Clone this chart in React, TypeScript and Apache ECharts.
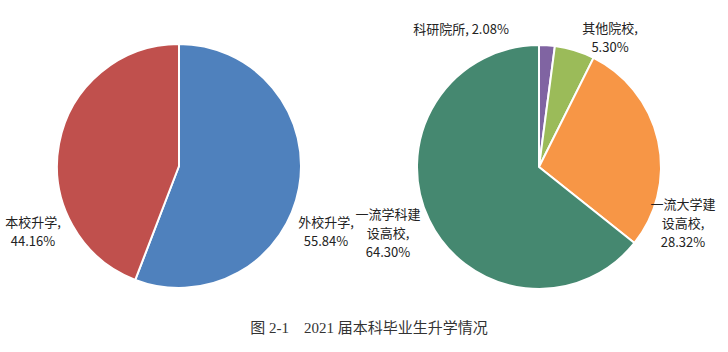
import React, { useEffect, useRef } from "react";
import * as echarts from "echarts";

const leftNames = ["外校升学", "本校升学"];
const leftValues = [55.84, 44.16];
const leftLabels = ["外校升学,", "本校升学,"];
const leftColors = ["#4F81BD", "#C0504D"];

const rightNames = ["科研院所", "其他院校", "一流大学建设高校", "一流学科建设高校"];
const rightValues = [2.08, 5.3, 28.32, 64.3];
const rightLabels = ["科研院所, ", "其他院校,\n", "一流大学建\n设高校,\n", "一流学科建\n设高校,\n"];
const rightColors = ["#8064A2", "#9BBB59", "#F79646", "#458870"];

const caption = "图 2-1    2021 届本科毕业生升学情况";

const leftLabelPos = [
  [326, 231],
  [33, 231],
];
const rightLabelPos = [
  [461, 28],
  [610, 37],
  [683, 222],
  [388, 232],
];

export default function App() {
  const ref = useRef<HTMLDivElement>(null);
  useEffect(() => {
    if (!ref.current) return;
    const chart = echarts.init(ref.current, null, { renderer: "svg" });
    const labelStyle = {
      show: true,
      position: "outside" as const,
      overflow: "none" as const,
      fontSize: 13,
      lineHeight: 19,
      color: "#222",
      fontFamily: "'Noto Sans CJK SC', 'Noto Sans', sans-serif",
      align: "center" as const,
    };
    const common = {
      type: "pie" as const,
      radius: 122,
      startAngle: 90,
      clockwise: true,
      silent: true,
      avoidLabelOverlap: false,
      itemStyle: { borderColor: "#fff", borderWidth: 2 },
      labelLine: { show: false },
    };
    chart.setOption({
      animation: false,
      backgroundColor: "#ffffff",
      series: [
        {
          ...common,
          center: [179, 166],
          label: {
            ...labelStyle,
            formatter: (p: any) => `${leftLabels[p.dataIndex]}\n${leftValues[p.dataIndex].toFixed(2)}%`,
          },
          labelLayout: (p: any) => ({
            x: leftLabelPos[p.dataIndex][0],
            y: leftLabelPos[p.dataIndex][1],
            align: "center",
            verticalAlign: "middle",
            hideOverlap: false,
          }),
          data: leftNames.map((n, i) => ({
            name: n,
            value: leftValues[i],
            itemStyle: { color: leftColors[i] },
          })),
        },
        {
          ...common,
          center: [539, 167],
          label: {
            ...labelStyle,
            formatter: (p: any) => `${rightLabels[p.dataIndex]}${rightValues[p.dataIndex].toFixed(2)}%`,
          },
          labelLayout: (p: any) => ({
            x: rightLabelPos[p.dataIndex][0],
            y: rightLabelPos[p.dataIndex][1],
            align: "center",
            verticalAlign: "middle",
            hideOverlap: false,
          }),
          data: rightNames.map((n, i) => ({
            name: n,
            value: rightValues[i],
            itemStyle: { color: rightColors[i] },
          })),
        },
      ],
      graphic: [
        {
          type: "text",
          x: 369,
          y: 328,
          style: {
            text: caption,
            fontSize: 15,
            fill: "#333",
            fontFamily: "'Liberation Serif', 'Noto Sans CJK SC', serif",
            textAlign: "center",
            textVerticalAlign: "middle",
          },
        },
      ],
    });
    return () => chart.dispose();
  }, []);
  return (
    <div
      ref={ref}
      style={{ position: "absolute", left: 0, top: 0, width: 728, height: 352 }}
    />
  );
}
